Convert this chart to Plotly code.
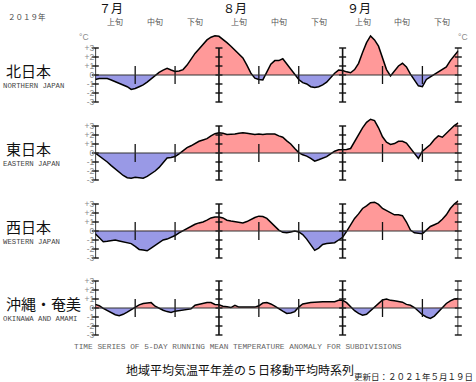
import plotly.graph_objects as go
import numpy as np

# ---------------- data (day index 0 = 1 Jul 2019 ... 91 = 30 Sep 2019) ----------------
days = list(range(92))

north = [-0.5, -0.4, -0.4, -0.4, -0.55, -0.75, -0.95, -1.15, -1.3, -1.6,
         -1.5, -1.3, -1.1, -0.8, -0.4, -0.05, 0.3, 0.55, 0.75, 0.55,
         0.4, 0.45, 0.6, 1.1, 1.8, 2.4, 2.9, 3.4, 3.9, 4.2,
         4.35, 4.3, 4.0, 3.6, 3.2, 2.8, 2.4, 1.9, 1.1, 0.2,
         -0.35, -0.5, -0.55, 0.3, 1.2, 1.6, 1.6, 1.8, 1.2, 0.6,
         0.05, -0.5, -0.85, -1.0, -1.3, -1.4, -1.3, -1.1, -0.8, -0.3,
         0.2, 0.55, 0.5, 0.35, 0.25, 0.6, 1.3, 2.5, 3.6, 4.35,
         3.9, 3.2, 1.8, 0.6, -0.1, 0.5, 1.0, 1.3, 0.9, 0.1,
         -0.6, -1.2, -1.3, -0.5, -0.2, 0.1, 0.35, 0.6, 0.9, 1.6,
         2.2, 2.7]

east = [0.0, -0.3, -0.7, -1.0, -1.4, -1.8, -2.2, -2.5, -2.75, -2.8,
        -2.7, -2.75, -2.8, -2.6, -2.3, -2.0, -1.6, -1.1, -0.55, -0.5,
        -0.4, -0.1, 0.3, 0.6, 0.8, 1.1, 1.3, 1.45, 1.6, 1.9,
        2.15, 2.25, 2.2, 2.05, 2.05, 2.1, 2.2, 2.25, 2.2, 2.1,
        2.05, 2.1, 2.05, 2.1, 2.1, 2.1, 1.9, 1.75, 1.35, 1.0,
        0.5, 0.05, -0.2, -0.35, -0.6, -0.9, -0.75, -0.55, -0.4, -0.1,
        0.2, 0.35, 0.35, 0.4, 0.5, 1.3, 2.0, 2.8, 3.4, 3.75,
        3.6, 2.8, 1.8, 1.2, 0.95, 1.05, 1.3, 1.3, 1.1, 0.5,
        -0.1, -0.6, 0.2, 0.6, 0.95, 1.5, 1.9, 1.75, 2.2, 2.6,
        3.05, 3.35]

west = [-0.3, -0.8, -1.2, -1.15, -1.05, -1.0, -1.1, -1.2, -1.25, -1.4,
        -1.7, -2.05, -2.1, -2.2, -1.9, -1.6, -1.25, -1.0, -0.9, -0.7,
        -0.5, -0.2, 0.05, 0.3, 0.55, 0.75, 0.9, 1.0, 1.2, 1.45,
        1.55, 1.55, 1.45, 1.2, 1.1, 1.05, 0.95, 0.9, 1.05, 1.3,
        1.5, 1.65, 1.6, 1.4, 1.0, 0.6, 0.1, -0.15, -0.2, -0.1,
        0.0, -0.1, -0.4, -0.9, -1.6, -2.15, -1.9, -1.5, -1.4, -1.35,
        -1.3, -1.0, -0.7, -0.05, 0.7, 1.4, 1.9, 2.5, 2.8, 3.15,
        3.2, 2.95, 2.5, 2.25, 2.05, 1.8, 1.8, 1.7, 1.0, 0.1,
        -0.2, -0.25, -0.3, 0.1, 0.5, 0.7, 0.9, 1.3, 1.8, 2.5,
        3.0, 3.35]

okinawa = [0.4, 0.25, -0.05, -0.3, -0.55, -0.75, -0.85, -0.7, -0.45, -0.2,
           0.1, 0.35, 0.5, 0.55, 0.6, 0.2, -0.05, -0.25, -0.4, -0.5,
           -0.35, -0.3, -0.25, -0.2, -0.1, 0.3, 0.4, 0.5, 0.6, 0.6,
           0.4, 0.35, 0.2, 0.15, 0.05, 0.3, 0.1, 0.1, 0.1, 0.1,
           0.1, 0.25, 0.55, 0.6, 0.45, 0.2, -0.1, -0.35, -0.6, -0.55,
           -0.4, 0.1, 0.45, 0.55, 0.6, 0.65, 0.7, 0.7, 0.7, 0.7,
           0.7, 0.85, 0.85, 0.6, 0.1, -0.3, -0.6, -0.8, -0.7, -0.3,
           0.1, 0.6, 0.9, 1.0, 0.85, 0.8, 0.7, 0.65, 0.4, 0.3,
           0.05, -0.4, -0.75, -1.0, -1.15, -0.9, -0.45, 0.05, 0.5, 0.8,
           1.0, 1.05]

series = [north, east, west, okinawa]
region_ja = ["北日本", "東日本", "西日本", "沖縄・奄美"]
region_en = ["NORTHERN JAPAN", "EASTERN JAPAN", "WESTERN JAPAN", "OKINAWA AND AMAMI"]

month_labels = ["７月", "８月", "９月"]
month_start = [0, 31, 62]
frame_days = [0, 31, 62, 91]
decade_days = [10, 20, 41, 51, 72, 82]
decade_labels = ["上旬", "中旬", "下旬"]
decade_mid = [5, 15, 25]
ytick_vals = [-3, -2, -1, 0, 1, 2, 3]
ytick_text = ["-3", "-2", "-1", "0", "+1", "+2", "+3"]

# ---------------- layout geometry ----------------
W, H = 476, 382
X_LEFT, X_RIGHT = 95.3, 458.3
ZERO_PIX = [75, 153, 231, 308]
UNIT = 9.0
YMIN, YMAX = -3.4, 4.6

def px(p):
    return p / W

def py(p):
    return 1 - p / H

POS_COL = "#ff9999"
NEG_COL = "#9999e6"
GRAY = "#8a8a8a"
CJK = "Noto Sans CJK JP"
MONO = "Liberation Mono"
SANS = "Liberation Sans"


def split_fill(x, y):
    xs, ys = [x[0]], [y[0]]
    for i in range(1, len(x)):
        y0, y1 = y[i - 1], y[i]
        if y0 * y1 < 0:
            t = y0 / (y0 - y1)
            xs.append(x[i - 1] + t * (x[i] - x[i - 1]))
            ys.append(0.0)
        xs.append(x[i])
        ys.append(y[i])
    ys = np.array(ys, dtype=float)
    return xs, np.maximum(ys, 0), np.minimum(ys, 0)


fig = go.Figure()
shapes = []
annotations = []
layout_axes = {}

for i, (vals, ja, en, z) in enumerate(zip(series, region_ja, region_en, ZERO_PIX)):
    n = i + 1
    yname = "y" if n == 1 else f"y{n}"
    top = z - YMAX * UNIT
    bot = z - YMIN * UNIT
    dom = [py(bot), py(top)]

    xs, pos, neg = split_fill(days, vals)
    fig.add_trace(go.Scatter(x=xs, y=pos, mode="lines", line=dict(width=0),
                             fill="tozeroy", fillcolor=POS_COL, xaxis="x", yaxis=yname,
                             hoverinfo="skip", showlegend=False))
    fig.add_trace(go.Scatter(x=xs, y=neg, mode="lines", line=dict(width=0),
                             fill="tozeroy", fillcolor=NEG_COL, xaxis="x", yaxis=yname,
                             hoverinfo="skip", showlegend=False))
    fig.add_trace(go.Scatter(x=days, y=vals, mode="lines",
                             line=dict(color="black", width=1.5), xaxis="x", yaxis=yname,
                             showlegend=False, cliponaxis=False))

    # month frame lines (I-beams) with unit ticks
    fx, fy = [], []
    for d in frame_days:
        fx += [d, d, None]
        fy += [ytick_vals[0], ytick_vals[-1], None]
    fig.add_trace(go.Scatter(x=fx, y=fy, mode="lines", line=dict(color="#111", width=1.6),
                             xaxis="x", yaxis=yname, showlegend=False, hoverinfo="skip",
                             cliponaxis=False))
    mx = [d for d in frame_days for _ in ytick_vals]
    my = [v for _ in frame_days for v in ytick_vals]
    fig.add_trace(go.Scatter(x=mx, y=my, mode="markers",
                             marker=dict(symbol="line-ew", size=5,
                                         line=dict(color="#111", width=1.4)),
                             xaxis="x", yaxis=yname, showlegend=False, hoverinfo="skip",
                             cliponaxis=False))
    # decade ticks
    dx, dy = [], []
    for d in decade_days:
        dx += [d, d, None]
        dy += [-1, 1, None]
    fig.add_trace(go.Scatter(x=dx, y=dy, mode="lines", line=dict(color="#111", width=1.3),
                             xaxis="x", yaxis=yname, showlegend=False, hoverinfo="skip"))

    # zero line
    shapes.append(dict(type="line", xref="x domain", x0=0, x1=1, yref=yname, y0=0, y1=0,
                       line=dict(color="#333", width=1.2), layer="above"))

    axcommon = dict(range=[YMIN, YMAX], tickvals=ytick_vals, ticktext=ytick_text,
                    tickfont=dict(family=SANS, size=8.5, color=GRAY),
                    showgrid=False, zeroline=False, showline=False, ticks="",
                    fixedrange=True)
    layout_axes["yaxis" if n == 1 else f"yaxis{n}"] = dict(domain=dom, anchor="x", **axcommon)
    layout_axes[f"yaxis{n + 4}"] = dict(overlaying=yname, side="right", anchor="x", **axcommon)

    annotations.append(dict(text=ja, x=px(4), y=py(z - 5), xref="paper", yref="paper",
                            xanchor="left", yanchor="middle", showarrow=False,
                            font=dict(family=CJK, size=15, color="#111")))
    annotations.append(dict(text=en, x=px(1), y=py(z + 11), xref="paper", yref="paper",
                            xanchor="left", yanchor="middle", showarrow=False,
                            font=dict(family=MONO, size=7.3, color="#444")))

# °C labels on first panel
for xp in (84, 463):
    annotations.append(dict(text="°C", x=px(xp), y=py(37), xref="paper", yref="paper",
                            xanchor="center", yanchor="middle", showarrow=False,
                            font=dict(family=SANS, size=8.5, color=GRAY)))

# header
annotations.append(dict(text="２０１９年", x=px(6), y=py(16), xref="paper", yref="paper",
                        xanchor="left", yanchor="middle", showarrow=False,
                        font=dict(family=CJK, size=7.5, color="#444")))
for lab, ms in zip(month_labels, month_start):
    annotations.append(dict(text=lab, x=ms + 4, y=py(7.5), xref="x", yref="paper",
                            xanchor="center", yanchor="middle", showarrow=False,
                            font=dict(family=CJK, size=12, color="#111")))
    for dl, dm in zip(decade_labels, decade_mid):
        annotations.append(dict(text=dl, x=ms + dm, y=py(21), xref="x", yref="paper",
                                xanchor="center", yanchor="middle", showarrow=False,
                                font=dict(family=CJK, size=8, color="#555")))

# footer
annotations.append(dict(text="TIME SERIES OF 5-DAY RUNNING MEAN TEMPERATURE ANOMALY FOR SUBDIVISIONS",
                        x=px(238), y=py(347), xref="paper", yref="paper", xanchor="center",
                        yanchor="middle", showarrow=False,
                        font=dict(family=MONO, size=7.8, color="#666")))
annotations.append(dict(text="地域平均気温平年差の５日移動平均時系列", x=px(240), y=py(369),
                        xref="paper", yref="paper", xanchor="center", yanchor="middle",
                        showarrow=False, font=dict(family=CJK, size=12, color="#111")))
annotations.append(dict(text="更新日：２０２１年５月１９日", x=px(475), y=py(375.5),
                        xref="paper", yref="paper", xanchor="right", yanchor="middle",
                        showarrow=False, font=dict(family=CJK, size=8.5, color="#222")))

fig.update_layout(
    width=W, height=H,
    margin=dict(l=0, r=0, t=0, b=0),
    paper_bgcolor="white", plot_bgcolor="white",
    xaxis=dict(domain=[px(X_LEFT), px(X_RIGHT)], range=[days[0], days[-1]], visible=False,
               fixedrange=True, anchor="y"),
    shapes=shapes, annotations=annotations,
    showlegend=False,
    **layout_axes,
)

fig.write_html("out.html", config={"displayModeBar": False},
               post_script="document.body.style.margin='0';document.body.style.overflow='hidden';")
